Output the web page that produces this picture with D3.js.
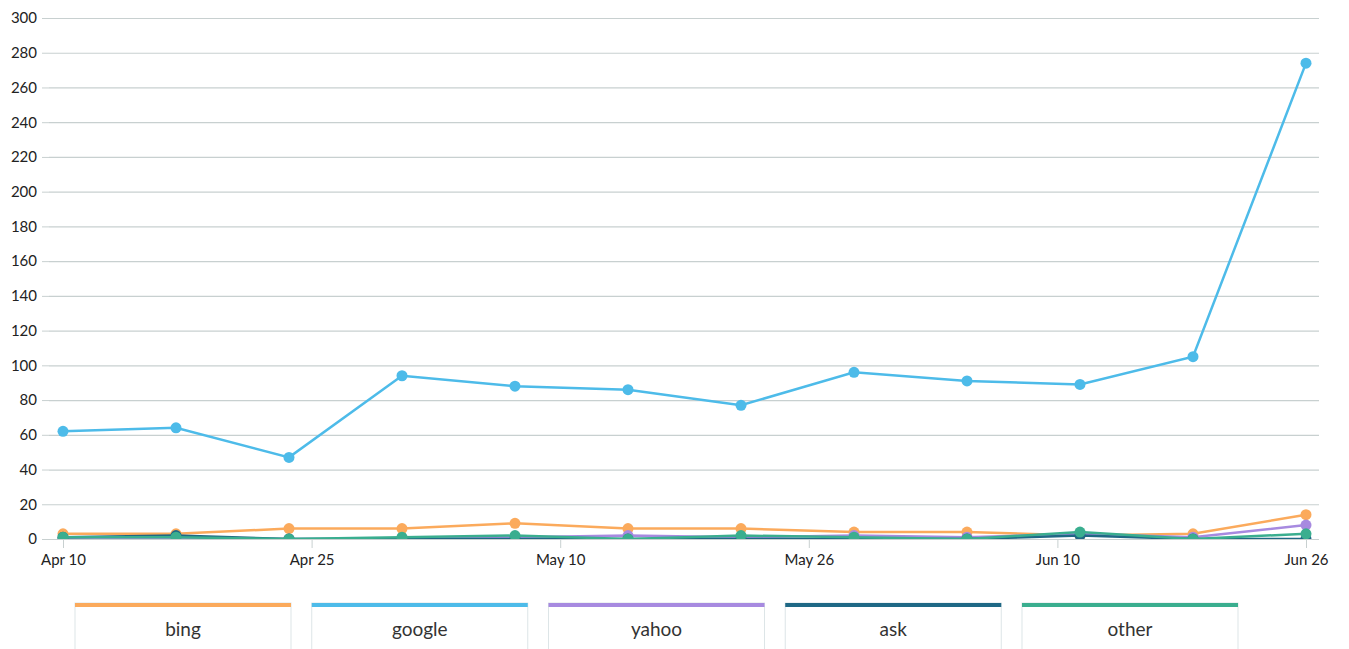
<!DOCTYPE html>
<html lang="en">
<head>
<meta charset="UTF-8">
<title>search engines</title>
<script src="https://d3js.org/d3.v7.min.js"></script>
<style>
  body { margin: 0; background: #fff; font-family: Lato, "Open Sans", sans-serif; }
  .axis text { font-family: Lato, sans-serif; font-size: 15px; fill: #222; }
  .legend text { font-family: Lato, sans-serif; font-size: 19px; fill: #333; }
</style>
</head>
<body>
<script>
// weekly dates
var dates = ["2019-04-10","2019-04-17","2019-04-24","2019-05-01","2019-05-08","2019-05-15",
             "2019-05-22","2019-05-29","2019-06-05","2019-06-12","2019-06-19","2019-06-26"];
var names = ["bing", "google", "yahoo", "ask", "other"];
var colors = ["#fbaa5c", "#4dbbe9", "#a78ae0", "#1f6885", "#3aae8f"];
var bing   = [3, 3, 6, 6, 9, 6, 6, 4, 4, 2, 3, 14];
var google = [62, 64, 47, 94, 88, 86, 77, 96, 91, 89, 105, 274];
var yahoo  = [0, 0, 0, 0, 1, 2, 1, 2, 1, 3, 1, 8];
var ask    = [1, 2, 0, 0, 0, 0, 0, 0, 0, 2, 0, 0];
var other  = [1, 1, 0, 1, 2, 0, 2, 1, 0, 4, 0, 3];
var yTicks = d3.range(0, 301, 20);

var series = [bing, google, yahoo, ask, other];
var parse = d3.timeParse("%Y-%m-%d");
var xdata = dates.map(parse);

var width = 1349, height = 649;
var svg = d3.select("body").append("svg")
    .attr("width", width)
    .attr("height", height);

var x = d3.scaleTime().domain([xdata[0], xdata[xdata.length - 1]]).range([63, 1306]);
var y = d3.scaleLinear().domain([0, 300]).range([539, 18]);

// clip the plot so dots at 0 are cut at the baseline
svg.append("clipPath").attr("id", "plot")
  .append("rect").attr("x", 42).attr("y", 0).attr("width", 1319 - 42).attr("height", 539);

// y axis + gridlines
var yAxis = svg.append("g").attr("class", "axis").attr("transform", "translate(49,0)")
    .call(d3.axisLeft(y).tickValues(yTicks).tickSize(7).tickPadding(5));
yAxis.select(".domain").remove();
yAxis.selectAll("line").attr("stroke", "#c8d0d0");
yAxis.selectAll(".tick").append("line")
    .attr("x1", 0).attr("x2", 1319 - 49)
    .attr("stroke", "#c8d0d0").attr("stroke-width", 1.2);

// x axis: 6 evenly spaced ticks
var t0 = xdata[0].getTime(), t1 = xdata[xdata.length - 1].getTime();
var xTicks = d3.range(6).map(function(i) { return new Date(t0 + (t1 - t0) * i / 5); });
var xAxis = svg.append("g").attr("class", "axis").attr("transform", "translate(0,539)")
    .call(d3.axisBottom(x).tickValues(xTicks).tickSize(9).tickPadding(6).tickFormat(d3.timeFormat("%b %-d")));
xAxis.select(".domain").remove();
xAxis.selectAll("line").attr("stroke", "#c8d0d0");

var line = d3.line()
    .x(function(d, i) { return x(xdata[i]); })
    .y(function(d) { return y(d); });

var plot = svg.append("g").attr("clip-path", "url(#plot)");
series.forEach(function(s, k) {
  var g = plot.append("g");
  g.append("path")
    .attr("d", line(s))
    .attr("fill", "none")
    .attr("stroke", colors[k])
    .attr("stroke-width", 2.5);
  g.selectAll("circle")
    .data(s)
    .enter()
      .append("circle")
        .attr("cx", function(d, i) { return x(xdata[i]); })
        .attr("cy", function(d) { return y(d); })
        .attr("r", 5.5)
        .attr("fill", colors[k]);
});

// legend boxes
var lx = d3.scaleBand().domain(names).range([75, 1238]).paddingInner(0.0876);
var legend = svg.append("g").attr("class", "legend");
var item = legend.selectAll("g").data(names).enter().append("g")
    .attr("transform", function(d) { return "translate(" + lx(d) + ",603)"; });
item.append("rect")
    .attr("width", lx.bandwidth()).attr("height", 50)
    .attr("fill", "#fff").attr("stroke", "#dde5e7");
item.append("rect")
    .attr("width", lx.bandwidth()).attr("height", 4)
    .attr("fill", function(d, i) { return colors[i]; });
item.append("text")
    .attr("x", lx.bandwidth() / 2).attr("y", 33)
    .attr("text-anchor", "middle")
    .text(function(d) { return d; });
</script>
</body>
</html>
